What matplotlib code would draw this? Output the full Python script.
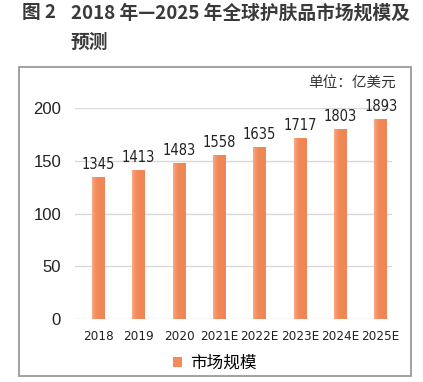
import matplotlib
matplotlib.use("Agg")
import matplotlib.pyplot as plt
from matplotlib import font_manager
from matplotlib.patches import Rectangle, Patch
import numpy as np

years = ["2018", "2019", "2020", "2021E", "2022E", "2023E", "2024E", "2025E"]
values = [1345, 1413, 1483, 1558, 1635, 1717, 1803, 1893]
yticks = [0, 50, 100, 150, 200]
title_no = "图 2"
title_l1 = "2018 年—2025 年全球护肤品市场规模及"
title_l2 = "预测"
unit_text = "单位：亿美元"
series_name = "市场规模"

cond = [f for f in font_manager.fontManager.ttflist
        if f.name == "DejaVu Sans" and str(f.stretch) in ("condensed", "semi-condensed", "500", "75", "87")]
if cond:
    narrow_family = dict(family="DejaVu Sans", stretch="condensed")
    val_size, tick_size = 10.5, 9.6
else:
    narrow_family = dict(family="Liberation Sans")
    val_size, tick_size = 9.8, 9.0
cjk = "Noto Sans CJK SC"

W, H = 423, 382
fig = plt.figure(figsize=(W / 100, H / 100), dpi=100)

def fx(px):
    return px / W

def fy(py):
    return 1 - py / H

# frame box
fig.patches.append(Rectangle((fx(19), fy(376)), fx(411) - fx(19), fy(67) - fy(376),
                             transform=fig.transFigure, fill=False,
                             edgecolor="#9a9a9a", linewidth=1.3))

ax = fig.add_axes([fx(75), fy(319), fx(392) - fx(75), fy(108) - fy(319)])
x = np.arange(len(years))
plot_vals = [v / 10 for v in values]
bars = ax.bar(x, plot_vals, width=0.32, color="#F28A5A", zorder=3)

# subtle horizontal gradient inside bars
grad = np.linspace(0, 1, 64)
cols = np.array([[0.97, 0.66, 0.52], [0.95, 0.54, 0.35], [0.94, 0.52, 0.33]])
g = np.interp(grad, [0, 0.35, 1], [0, 1, 2])
img = np.zeros((1, 64, 3))
for i in range(3):
    img[0, :, i] = np.interp(g, [0, 1, 2], cols[:, i])
for b in bars:
    x0, w, h = b.get_x(), b.get_width(), b.get_height()
    im = ax.imshow(img, extent=(x0, x0 + w, 0, h), aspect="auto", zorder=4)
    im.set_clip_path(b)

for xi, pv, v in zip(x, plot_vals, values):
    ax.annotate(str(v), (xi, pv), xytext=(0, 3.5), textcoords="offset points",
                ha="center", va="bottom", color="#222222", fontsize=val_size, **narrow_family)

ax.set_xlim(-0.58, 7.28)
ax.set_ylim(0, 200)
ax.set_yticks(yticks)
ax.set_xticks(x)
ax.set_xticklabels(years, color="#222222", fontsize=tick_size, **narrow_family)
ax.set_yticklabels([str(t) for t in yticks], family="Liberation Sans", fontsize=12, color="#222222")
ax.tick_params(axis="both", length=0)
ax.tick_params(axis="y", pad=10)
ax.tick_params(axis="x", pad=8)
ax.grid(axis="y", color="#d9d9d9", linewidth=1.0, zorder=0)
for s in ax.spines.values():
    s.set_visible(False)
ax.set_axisbelow(True)

# unit label
fig.text(fx(396), fy(83), unit_text, ha="right", va="center", fontsize=10.5,
         family=[cjk, "DejaVu Sans"], color="#333333")

# legend
handle = Patch(facecolor="#F28A5A", edgecolor="none")
fig.legend([handle], [series_name], loc="center", bbox_to_anchor=(fx(215), fy(363)),
           frameon=False, handlelength=0.55, handleheight=0.55, handletextpad=0.5,
           prop={"family": cjk, "size": 12})

# title
tkw = dict(ha="left", va="center", fontsize=13.5, family=[cjk, "DejaVu Sans"],
           weight="bold", color="#3a3a3a")
fig.text(fx(22), fy(13), title_no, **tkw)
fig.text(fx(71), fy(13), title_l1, **tkw)
fig.text(fx(71), fy(42), title_l2, **tkw)

fig.savefig("out.png", dpi=100)
